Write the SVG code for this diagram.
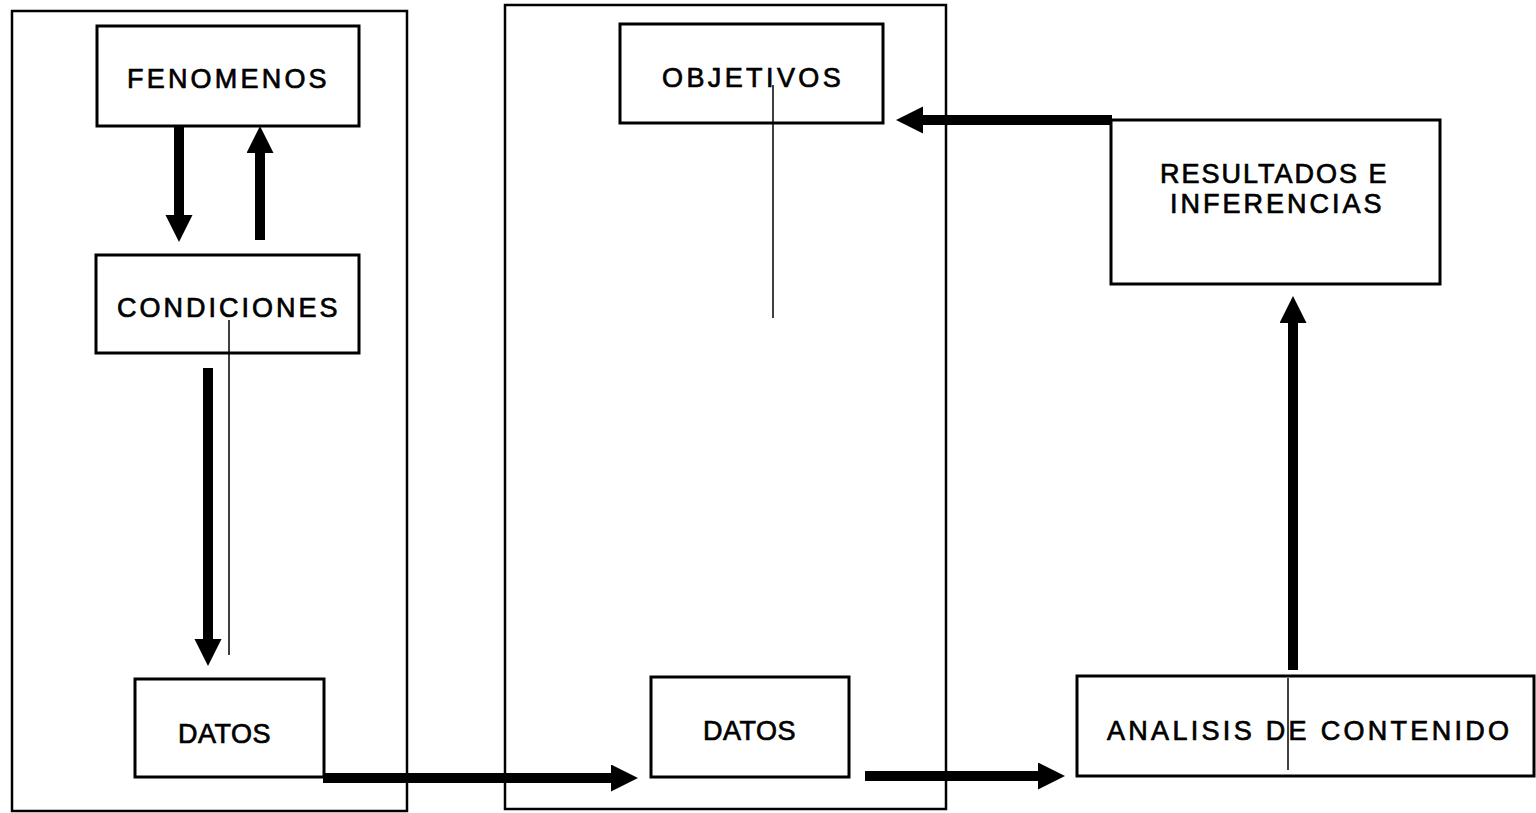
<svg xmlns="http://www.w3.org/2000/svg" width="1536" height="813" viewBox="0 0 1536 813">
<defs>
<style>
.panel{fill:none;stroke:#000;stroke-width:2.5}
.box{fill:#fff;stroke:#000;stroke-width:3}
.lbl{font-family:"Liberation Sans",Arial,sans-serif;font-size:27px;fill:#000;stroke:#000;stroke-width:0.7}
.thick{stroke:#000;stroke-width:10;fill:none;marker-end:url(#head)}
.thin{stroke:#000;stroke-width:1.5;fill:none}
</style>
<marker id="head" markerUnits="userSpaceOnUse" markerWidth="28" markerHeight="28" refX="6" refY="13.5" orient="auto" viewBox="0 0 28 28">
<path d="M0,0 L27,13.5 L0,27 Z" fill="#000"/>
</marker>
</defs>
<rect width="1536" height="813" fill="#fff"/>
<g id="panels">
<rect id="panel-left" class="panel" x="12" y="11" width="395" height="800"/>
<rect id="panel-middle" class="panel" x="505" y="5" width="441" height="804"/>
</g>
<g id="node-fenomenos">
<rect class="box" x="97" y="26" width="262" height="100"/>
<text class="lbl" x="127" y="88" style="letter-spacing:3.2px">FENOMENOS</text>
</g>
<g id="node-condiciones">
<rect class="box" x="96" y="255" width="263" height="98"/>
<text class="lbl" x="117" y="317" style="letter-spacing:3px">CONDICIONES</text>
</g>
<g id="node-datos-1">
<rect class="box" x="135" y="679" width="189" height="98"/>
<text class="lbl" x="178" y="743" style="letter-spacing:0.5px">DATOS</text>
</g>
<g id="node-objetivos">
<rect class="box" x="620" y="24" width="263" height="99"/>
<text class="lbl" x="662" y="87" style="letter-spacing:3.4px">OBJETIVOS</text>
</g>
<g id="node-datos-2">
<rect class="box" x="651" y="677" width="198" height="100"/>
<text class="lbl" x="703" y="740" style="letter-spacing:0.5px">DATOS</text>
</g>
<g id="node-resultados">
<rect class="box" x="1111" y="120" width="329" height="164"/>
<text class="lbl" x="1160" y="183" style="letter-spacing:2px">RESULTADOS E</text>
<text class="lbl" x="1170" y="213" style="letter-spacing:3px">INFERENCIAS</text>
</g>
<g id="node-analisis">
<rect class="box" x="1077" y="676" width="457" height="100"/>
<text class="lbl" x="1107" y="740" style="letter-spacing:3.3px">ANALISIS DE CONTENIDO</text>
</g>
<g id="connectors">
<line class="thick" x1="179" y1="127" x2="179" y2="221"/>
<line class="thick" x1="260" y1="240" x2="260" y2="147"/>
<line class="thick" x1="208" y1="368" x2="208" y2="645"/>
<line class="thick" x1="323" y1="778" x2="617" y2="778"/>
<line class="thick" x1="865" y1="776" x2="1044" y2="776"/>
<line class="thick" x1="1293" y1="670" x2="1293" y2="317"/>
<line class="thick" x1="1112" y1="120" x2="917" y2="120"/>
<line class="thin" x1="229" y1="320" x2="229" y2="655"/>
<line class="thin" x1="773" y1="85" x2="773" y2="318"/>
<line class="thin" x1="1288" y1="678" x2="1288" y2="770"/>
</g>
</svg>
